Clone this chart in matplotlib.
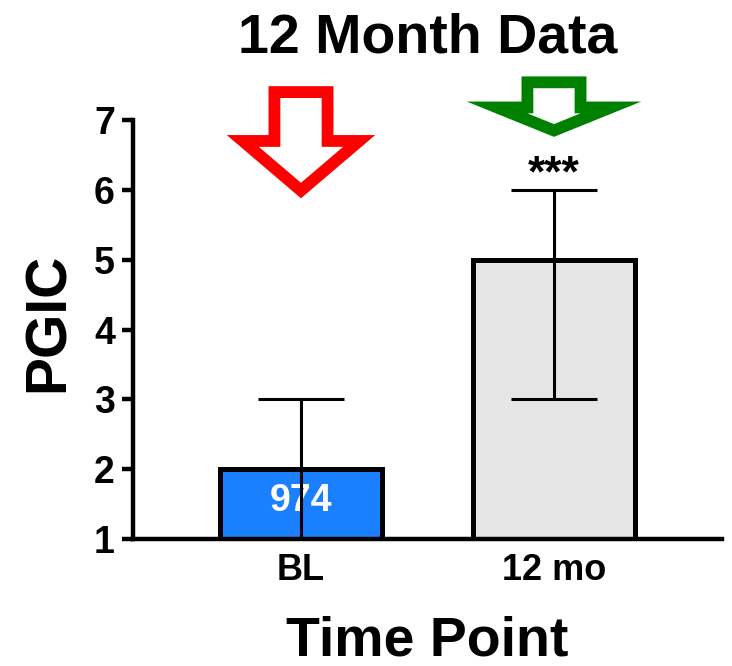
import matplotlib
matplotlib.use("Agg")
import matplotlib.pyplot as plt
from matplotlib.patches import FancyArrow

categories = ["BL", "12 mo"]
means = [2, 5]
lower = [1, 3]
upper = [3, 6]
bar_colors = ["#1A80FF", "#E6E6E6"]
n_label = "974"
sig_label = "***"

plt.rcParams["font.family"] = ["Liberation Sans", "DejaVu Sans"]
plt.rcParams["font.weight"] = "bold"

fig = plt.figure(figsize=(7.32, 6.66), dpi=100)
ax = fig.add_axes([0.1817, 0.1907, 0.8046, 0.6291])

x = list(range(len(categories)))
yerr = [[m - lo for m, lo in zip(means, lower)], [up - m for m, up in zip(means, upper)]]

ax.bar(x, means, width=0.64, bottom=0, color=bar_colors, edgecolor="black",
       linewidth=3.6, zorder=2)
ax.errorbar(x, means, yerr=yerr, fmt="none", ecolor="black", elinewidth=2.2,
            capsize=31, capthick=2.2, zorder=3)

ax.text(x[0], 1.55, n_label, color="white", fontsize=27, fontweight="bold",
        ha="center", va="center", zorder=2.5)
ax.text(x[1], upper[1] + 0.22, sig_label, color="black", fontsize=32,
        fontweight="bold", ha="center", va="center")

# hollow arrows above the bars
red = FancyArrow(x[0], 7.4, 0, -1.41, width=0.21, head_width=0.46, head_length=0.71,
                 length_includes_head=True, facecolor="white", edgecolor="#FF0000",
                 linewidth=8.5, clip_on=False, joinstyle="miter")
green = FancyArrow(x[1], 7.54, 0, -0.69, width=0.21, head_width=0.45, head_length=0.33,
                   length_includes_head=True, facecolor="white", edgecolor="#008000",
                   linewidth=8.5, clip_on=False, joinstyle="miter")
ax.add_patch(red)
ax.add_patch(green)

ax.set_xlim(-0.664, 1.664)
ax.set_ylim(1, 7)
ax.set_yticks(range(1, 8))
ax.set_xticks(x)
ax.set_xticklabels(categories)

for side in ["top", "right"]:
    ax.spines[side].set_visible(False)
for side in ["left", "bottom"]:
    ax.spines[side].set_linewidth(3.2)

ax.tick_params(axis="y", direction="out", length=8, width=3.2, labelsize=27, pad=5)
ax.tick_params(axis="x", length=0, labelsize=26, pad=10)
for lab in ax.get_xticklabels() + ax.get_yticklabels():
    lab.set_fontweight("bold")

ax.text(-0.1426, 0.518, "PGIC", transform=ax.transAxes, rotation=90, fontsize=41,
        fontweight="bold", ha="center", va="center")
ax.text(0.5, -0.277, "Time Point", transform=ax.transAxes, fontsize=40,
        fontweight="bold", ha="center", va="baseline")
ax.text(0.5, 1.16, "12 Month Data", transform=ax.transAxes, fontsize=40,
        fontweight="bold", ha="center", va="baseline")

fig.savefig("out.png", dpi=100)
